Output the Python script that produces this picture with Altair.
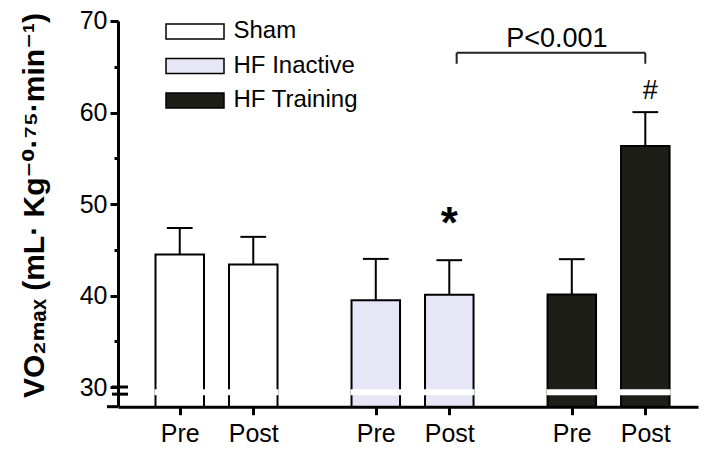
import altair as alt
import pandas as pd

# ---- data ----
groups = ["Sham", "HF Inactive", "HF Training"]
phases = ["Pre", "Post"]
means = [44.47, 43.39, 39.47, 40.09, 40.12, 56.33]
errors = [2.91, 3.02, 4.53, 3.77, 3.85, 3.71]
colors = ["#ffffff", "#e6e6f7", "#1e1e19"]
y_ticks = [30, 35, 40, 45, 50, 55, 60, 65, 70]
star_label = "*"
hash_label = "#"
p_label = "P<0.001"

# ---- layout constants ----
Y_MIN, Y_MAX = 27.85, 70
X_MAX = 7.89
FIRST = 0.84
GROUP_STEP = 8 / 3
HALF_BAR = 0.33
HALF_CAP = 0.175
BREAK_LO, BREAK_HI = 29.22, 29.65
FONT = "Liberation Sans, Arial, DejaVu Sans"

rows = []
for i, m in enumerate(means):
    g, s = divmod(i, 2)
    pos = round(FIRST + g * GROUP_STEP + s, 4)
    rows.append(dict(group=groups[g], phase=phases[s], mean=m, err=errors[i],
                     top=m + errors[i], pos=pos, x0=pos - HALF_BAR, x1=pos + HALF_BAR,
                     c0=pos - HALF_CAP, c1=pos + HALF_CAP, base=Y_MIN,
                     b0=BREAK_LO, b1=BREAK_HI))
df = pd.DataFrame(rows)
pre_pos = [r["pos"] for r in rows if r["phase"] == "Pre"]
all_pos = [r["pos"] for r in rows]

x_scale = alt.Scale(domain=[0, X_MAX], nice=False, zero=False)
y_scale = alt.Scale(domain=[Y_MIN, Y_MAX], nice=False, zero=False)

x_axis = alt.Axis(values=all_pos,
                  labelExpr="indexof(" + str(pre_pos) + ", datum.value) >= 0 ? 'Pre' : 'Post'",
                  title=None, grid=False, domainWidth=3, domainColor="black",
                  tickWidth=3, tickSize=8, tickColor="black", labelFontSize=25,
                  labelFont=FONT, labelColor="black", labelPadding=7)
y_axis = alt.Axis(values=y_ticks,
                  labelExpr="datum.value % 10 == 0 ? datum.label : ''",
                  title="VO₂ₘₐₓ (mL· Kg⁻⁰·⁷⁵·min⁻¹)",
                  titleFont=FONT, titleFontSize=30, titleFontWeight="bold", titleColor="black",
                  titleAngle=270, titleX=-75, titleY=184, titleAlign="center",
                  titleBaseline="alphabetic",
                  grid=False, domainWidth=3, domainColor="black", tickWidth=3,
                  tickSize={"condition": {"test": "datum.value % 10 == 0", "value": 8}, "value": 4},
                  tickColor="black", labelFontSize=25, labelFont=FONT, labelColor="black",
                  labelPadding=3)

base = alt.Chart(df)

bars = base.mark_bar(stroke="black", strokeWidth=2, opacity=1).encode(
    x=alt.X("x0:Q", scale=x_scale, axis=x_axis),
    x2="x1:Q",
    y=alt.Y("mean:Q", scale=y_scale, axis=y_axis),
    y2="base:Q",
    color=alt.Color("group:N", scale=alt.Scale(domain=groups, range=colors),
                    sort=groups,
                    legend=alt.Legend(title=None, orient="none", legendX=61.5, legendY=-5,
                                      symbolType="M-2,-0.52H2V0.52H-2Z", symbolSize=841,
                                      symbolStrokeColor="black", symbolStrokeWidth=1.5,
                                      symbolOpacity=1, labelFontSize=24, labelFont=FONT,
                                      labelColor="black", labelOffset=23, rowPadding=6.5,
                                      padding=0, labelLimit=300)),
)

break_band = base.mark_rect(fill="white", stroke="white", strokeWidth=2).encode(
    x="x0:Q", x2="x1:Q", y="b0:Q", y2="b1:Q")

err_lines = base.mark_rule(color="black", strokeWidth=2).encode(
    x="pos:Q", y="mean:Q", y2="top:Q")
err_caps = base.mark_rule(color="black", strokeWidth=2).encode(
    x="c0:Q", x2="c1:Q", y="top:Q")

# axis break marks and the small extension of the x axis line
brk = pd.DataFrame({"v": [30.0, BREAK_LO]})
break_marks = alt.Chart(brk).mark_rule(color="black", strokeWidth=3).encode(
    x=alt.value(-6), x2=alt.value(10), y="v:Q")
ext = alt.Chart(pd.DataFrame({"v": [Y_MIN]})).mark_rule(color="black", strokeWidth=3).encode(
    x=alt.value(-11), x2=alt.value(0), y="v:Q")

# annotations
hfi_post = rows[3]["pos"]
hft_post = rows[5]["pos"]
bracket_df = pd.DataFrame({"xa": [hfi_post + 0.1], "xb": [hft_post], "yh": [66.52], "yl": [65.33],
                           "xm": [(hfi_post + 0.1 + hft_post) / 2]})
bracket_h = alt.Chart(bracket_df).mark_rule(color="#222", strokeWidth=2).encode(
    x="xa:Q", x2="xb:Q", y="yh:Q")
bracket_l = alt.Chart(bracket_df).mark_rule(color="#222", strokeWidth=2).encode(
    x="xa:Q", y="yl:Q", y2="yh:Q")
bracket_r = alt.Chart(bracket_df).mark_rule(color="#222", strokeWidth=2).encode(
    x="xb:Q", y="yl:Q", y2="yh:Q")
p_text = alt.Chart(pd.DataFrame({"x": [bracket_df.xm[0]], "y": [67.12], "t": [p_label]})).mark_text(
    font=FONT, fontSize=27, color="black", baseline="alphabetic", dx=6).encode(
    x="x:Q", y="y:Q", text="t:N")

notes = pd.DataFrame({"x": [hfi_post, hft_post], "y": [46.3, 61.48], "t": [star_label, hash_label]})
star = alt.Chart(notes.iloc[[0]]).mark_text(font=FONT, fontSize=44, fontWeight="bold",
                                            color="black", baseline="alphabetic").encode(
    x="x:Q", y="y:Q", text="t:N")
hsh = alt.Chart(notes.iloc[[1]]).mark_text(font=FONT, fontSize=27, color="black",
                                           baseline="alphabetic", dx=5).encode(
    x="x:Q", y="y:Q", text="t:N")

chart = alt.layer(bars, break_band, err_lines, err_caps, break_marks, ext,
                  bracket_h, bracket_l, bracket_r, p_text, star, hsh).properties(
    width=580, height=385.7, autosize="none",
    padding={"left": 110, "top": 13, "right": 9, "bottom": 40},
    background="white",
).configure_view(stroke=None)

chart.save("out.html", embed_options={"renderer": "svg", "actions": False})
